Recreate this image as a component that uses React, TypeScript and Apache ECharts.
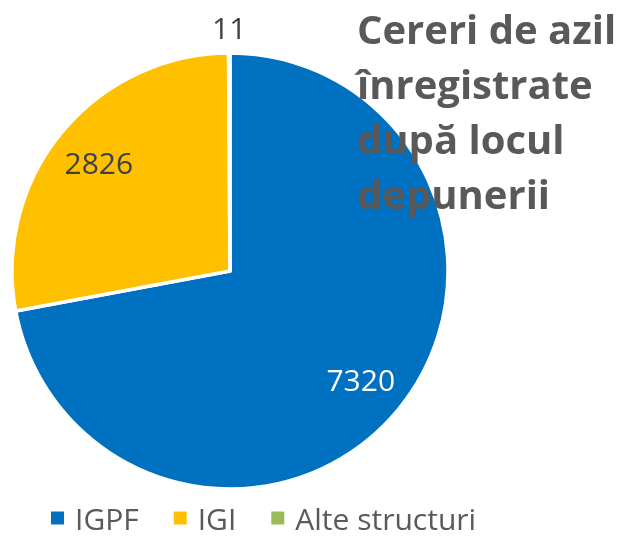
import React, { useEffect, useRef } from "react";
import * as echarts from "echarts";

const categories = ["IGPF", "IGI", "Alte structuri"];
const values = [7320, 2826, 11];
const colors = ["#0070C0", "#FFC000", "#9BBB59"];
const titleText = "Cereri de azil\nînregistrate\ndupă locul\ndepunerii";

export default function App() {
  const ref = useRef<HTMLDivElement>(null);
  useEffect(() => {
    if (!ref.current) return;
    const chart = echarts.init(ref.current, null, { renderer: "svg" });
    const font = "'Open Sans', 'Noto Sans', sans-serif";
    const center = [230, 271];
    const mainData = categories.map((name, i) => ({
      name,
      value: values[i],
      itemStyle: { color: colors[i] },
      label:
        i === 2
          ? { show: true, position: "outside", distanceToLabelLine: 0 }
          : { show: false },
      labelLine: { show: false, length: 26, length2: 0 },
    }));
    const overlayData = categories.map((name, i) => ({
      name,
      value: values[i],
      label: {
        show: i < 2,
        color: i === 0 ? "#FFFFFF" : "#404040",
      },
    }));
    chart.setOption({
      animation: false,
      title: {
        text: titleText,
        left: 352,
        top: -4,
        textStyle: {
          fontFamily: font,
          fontSize: 40,
          fontWeight: "bold",
          color: "#595959",
          lineHeight: 55,
        },
        z: 10,
      },
      legend: {
        left: 49,
        bottom: 5,
        padding: 0,
        icon: "rect",
        itemWidth: 15,
        itemHeight: 15,
        itemGap: 33,
        data: categories,
        textStyle: {
          fontFamily: font,
          fontSize: 30,
          color: "#595959",
          padding: [0, 0, 0, 5],
        },
      },
      series: [
        {
          type: "pie",
          center,
          radius: 218,
          startAngle: 90,
          clockwise: true,
          avoidLabelOverlap: false,
          data: mainData,
          itemStyle: { borderColor: "#FFFFFF", borderWidth: 3.5 },
          label: {
            formatter: "{c}",
            fontFamily: font,
            fontSize: 30,
            color: "#404040",
          },
          labelLayout: (p: any) => (p.dataIndex === 2 ? { align: "center" } : {}),
          emphasis: { disabled: true },
          z: 2,
        },
        {
          type: "pie",
          center,
          radius: [116, 218],
          startAngle: 90,
          clockwise: true,
          silent: true,
          avoidLabelOverlap: false,
          data: overlayData,
          itemStyle: { color: "rgba(0,0,0,0)", borderWidth: 0 },
          label: {
            position: "inside",
            formatter: "{c}",
            fontFamily: font,
            fontSize: 30,
          },
          labelLine: { show: false },
          emphasis: { disabled: true },
          legendHoverLink: false,
          z: 3,
        },
      ],
    });
    return () => chart.dispose();
  }, []);
  return (
    <div
      ref={ref}
      style={{ position: "fixed", left: 0, top: 0, width: 620, height: 538 }}
    />
  );
}
